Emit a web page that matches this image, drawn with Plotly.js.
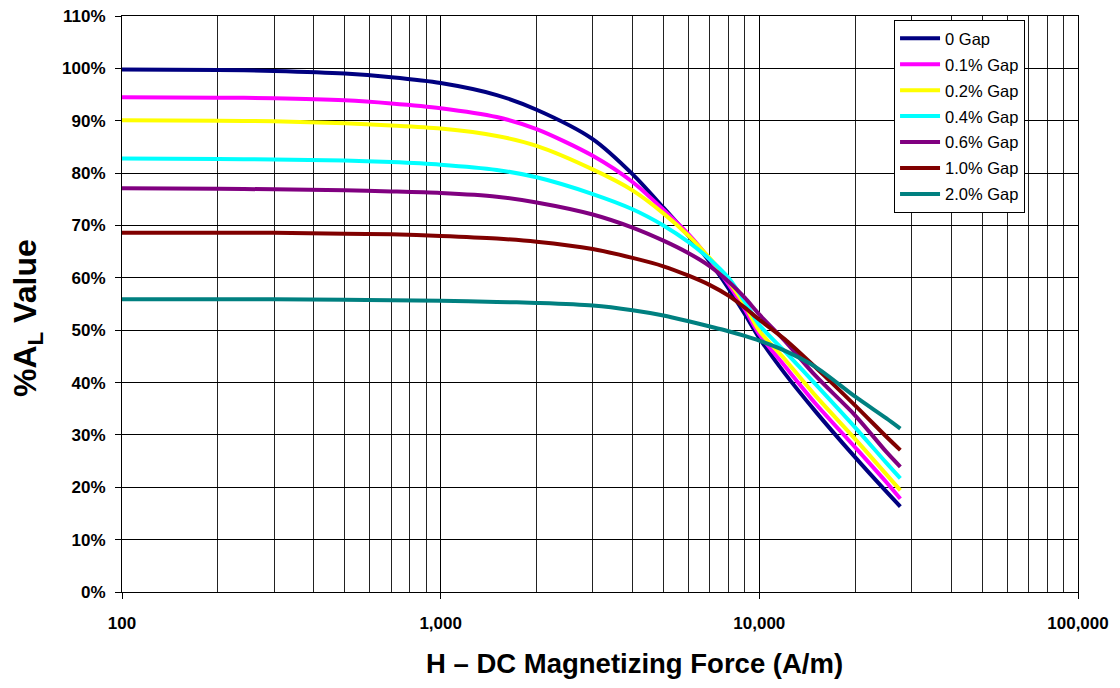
<!DOCTYPE html>
<html>
<head>
<meta charset="utf-8">
<script src="https://cdn.plot.ly/plotly-3.0.1.min.js"></script>
<style>html,body{margin:0;padding:0;background:#fff;}#chart{width:1120px;height:688px;}</style>
</head>
<body>
<div id="chart"></div>
<script>
const H = [100, 200, 300, 500, 700, 1000, 1500, 2000, 3000, 4000, 5000, 6000, 7000, 8000, 9000, 10000, 12000, 15000, 20000, 25000, 27700];

const gap0   = [99.8, 99.7, 99.5, 99.0, 98.3, 97.2, 94.9, 92.1, 86.5, 79.8, 73.4, 68.0, 63.0, 58.0, 53.1, 48.5, 41.8, 34.5, 25.7, 19.2, 16.3];
const gap01  = [94.5, 94.4, 94.3, 93.9, 93.3, 92.4, 90.7, 88.4, 83.3, 78.3, 73.0, 68.3, 63.5, 58.8, 54.0, 49.2, 43.2, 36.0, 27.6, 21.0, 17.8];
const gap02  = [90.1, 90.0, 89.9, 89.5, 89.1, 88.5, 87.1, 85.2, 80.7, 76.7, 72.3, 68.0, 63.7, 59.4, 54.8, 49.9, 44.5, 37.5, 29.2, 22.5, 19.4];
const gap04  = [82.8, 82.7, 82.6, 82.4, 82.1, 81.6, 80.6, 79.2, 76.0, 73.1, 70.0, 66.8, 63.5, 60.0, 55.5, 51.0, 46.0, 39.7, 31.4, 24.7, 21.7];
const gap06  = [77.1, 77.0, 76.9, 76.7, 76.5, 76.2, 75.5, 74.4, 72.1, 69.6, 67.1, 64.7, 62.2, 59.3, 56.2, 53.0, 48.0, 41.3, 33.7, 26.8, 23.9];
const gap10  = [68.6, 68.6, 68.6, 68.4, 68.3, 68.0, 67.5, 66.9, 65.5, 63.8, 62.2, 60.4, 58.6, 56.6, 54.3, 52.0, 48.3, 42.9, 35.6, 29.7, 27.1];
const gap20  = [55.9, 55.9, 55.9, 55.8, 55.7, 55.6, 55.4, 55.2, 54.7, 53.8, 52.8, 51.7, 50.7, 49.8, 48.9, 48.0, 46.1, 43.0, 37.3, 33.2, 31.2];

const seriesNames  = ['0 Gap', '0.1% Gap', '0.2% Gap', '0.4% Gap', '0.6% Gap', '1.0% Gap', '2.0% Gap'];
const seriesValues = [gap0, gap01, gap02, gap04, gap06, gap10, gap20];
const seriesColors = ['#000080', '#FF00FF', '#FFFF00', '#00FFFF', '#800080', '#800000', '#008080'];

const xTickVals = [100, 1000, 10000, 100000];
const xTickText = ['100', '1,000', '10,000', '100,000'];
const minorDecades = [100, 1000, 10000];
const minorDigits = [2, 3, 4, 5, 6, 7, 8, 9];
const xMinorVals = [];
minorDecades.forEach(d => minorDigits.forEach(m => xMinorVals.push(d * m)));

const yTickVals = [0, 10, 20, 30, 40, 50, 60, 70, 80, 90, 100, 110];
const yTickText = ['0%', '10%', '20%', '30%', '40%', '50%', '60%', '70%', '80%', '90%', '100%', '110%'];

const xTitle = 'H – DC Magnetizing Force (A/m)';
const yTitle = '%A<sub>L</sub> Value';

const traces = seriesNames.map((name, i) => ({
  type: 'scatter',
  mode: 'lines',
  name: name,
  x: H,
  y: seriesValues[i],
  legendgroup: 'g' + i,
  line: {color: seriesColors[i], width: 4, shape: 'spline', smoothing: 0.8}
}));

const font = 'Arial, "Liberation Sans", sans-serif';

const layout = {
  width: 1120,
  height: 688,
  margin: {l: 122, r: 42, t: 16, b: 96},
  paper_bgcolor: '#ffffff',
  plot_bgcolor: '#ffffff',
  font: {family: font, color: '#000'},
  showlegend: true,
  legend: {
    x: 0.9446, y: 0.993, xanchor: 'right', yanchor: 'top',
    bgcolor: '#ffffff', bordercolor: '#000', borderwidth: 1,
    font: {family: font, size: 16.5, color: '#000'},
    tracegroupgap: 1.5,
    itemwidth: 40
  },
  xaxis: {
    type: 'log',
    range: [2, 5],
    tickmode: 'array',
    tickvals: xTickVals,
    ticktext: xTickText,
    ticks: 'outside',
    ticklen: 6,
    tickcolor: '#000',
    ticklabelstandoff: 10,
    tickfont: {family: font, size: 17, color: '#000', weight: 'bold'},
    showgrid: true,
    gridcolor: '#000',
    gridwidth: 1,
    minor: {tickmode: 'array', tickvals: xMinorVals, showgrid: true, gridcolor: '#222', gridwidth: 1, ticks: ''},
    showline: true,
    linecolor: '#000',
    linewidth: 1,
    mirror: true,
    zeroline: false
  },
  yaxis: {
    range: [0, 110],
    tickmode: 'array',
    tickvals: yTickVals,
    ticktext: yTickText,
    ticks: 'outside',
    ticklen: 6,
    tickcolor: '#000',
    ticklabelstandoff: 6,
    tickfont: {family: font, size: 17, color: '#000', weight: 'bold'},
    showgrid: true,
    gridcolor: '#000',
    gridwidth: 1,
    showline: true,
    linecolor: '#000',
    linewidth: 1,
    mirror: true,
    zeroline: false
  },
  annotations: [
    {text: xTitle, xref: 'paper', yref: 'paper', x: 0.5356, y: -0.1233, xanchor: 'center', yanchor: 'middle',
     showarrow: false, font: {family: font, size: 27.5, color: '#000', weight: 'bold'}},
    {text: yTitle, xref: 'paper', yref: 'paper', x: -0.0983, y: 0.4757, xanchor: 'center', yanchor: 'middle',
     textangle: -90, showarrow: false, font: {family: font, size: 32, color: '#000', weight: 'bold'}}
  ]
};

Plotly.newPlot('chart', traces, layout, {displayModeBar: false, staticPlot: true});
</script>
</body>
</html>
